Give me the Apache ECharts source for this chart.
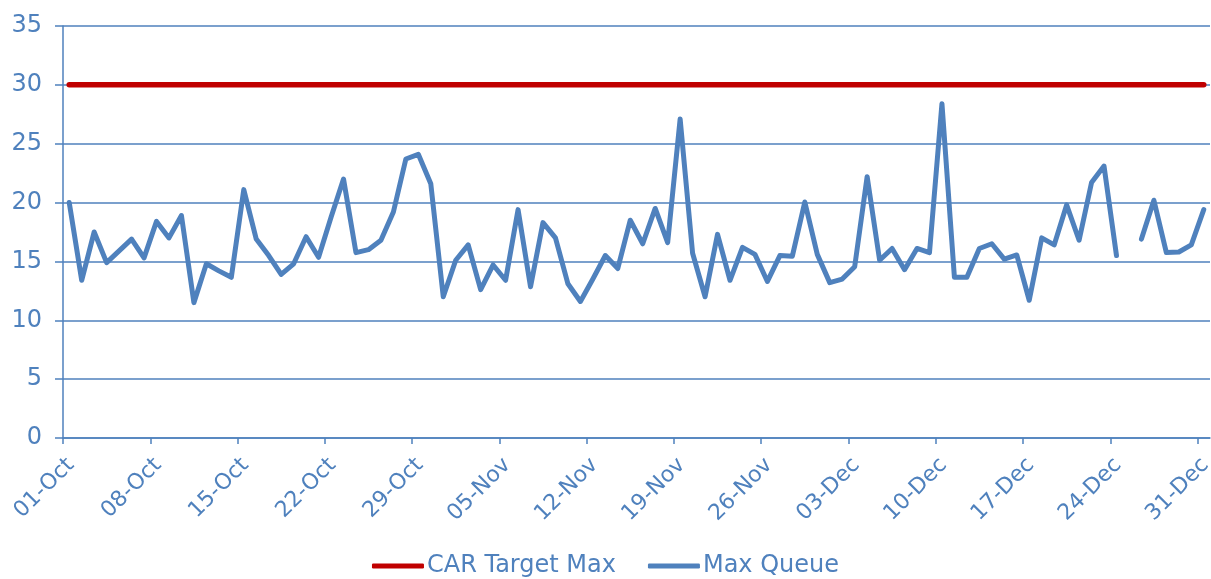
<!DOCTYPE html>
<html>
<head>
<meta charset="utf-8">
<script src="https://cdn.jsdelivr.net/npm/echarts@6/dist/echarts.min.js"></script>
<style>html,body{margin:0;padding:0;background:#fff}#c{width:1211px;height:579px}</style>
</head>
<body>
<div id="c"></div>
<script>
const dates = [
"01-Oct","02-Oct","03-Oct","04-Oct","05-Oct","06-Oct","07-Oct","08-Oct","09-Oct","10-Oct",
"11-Oct","12-Oct","13-Oct","14-Oct","15-Oct","16-Oct","17-Oct","18-Oct","19-Oct","20-Oct",
"21-Oct","22-Oct","23-Oct","24-Oct","25-Oct","26-Oct","27-Oct","28-Oct","29-Oct","30-Oct",
"31-Oct","01-Nov","02-Nov","03-Nov","04-Nov","05-Nov","06-Nov","07-Nov","08-Nov","09-Nov",
"10-Nov","11-Nov","12-Nov","13-Nov","14-Nov","15-Nov","16-Nov","17-Nov","18-Nov","19-Nov",
"20-Nov","21-Nov","22-Nov","23-Nov","24-Nov","25-Nov","26-Nov","27-Nov","28-Nov","29-Nov",
"30-Nov","01-Dec","02-Dec","03-Dec","04-Dec","05-Dec","06-Dec","07-Dec","08-Dec","09-Dec",
"10-Dec","11-Dec","12-Dec","13-Dec","14-Dec","15-Dec","16-Dec","17-Dec","18-Dec","19-Dec",
"20-Dec","21-Dec","22-Dec","23-Dec","24-Dec","25-Dec","26-Dec","27-Dec","28-Dec","29-Dec",
"30-Dec","31-Dec"];

const maxQueue = [
20.0, 13.4, 17.5, 14.9, 15.9, 16.9, 15.3, 18.4, 17.0, 18.9,
11.5, 14.8, 14.2, 13.65, 21.1, 16.9, 15.5, 13.9, 14.8, 17.1,
15.35, 18.75, 22.0, 15.75, 16.0, 16.8, 19.2, 23.7, 24.1, 21.6,
12.0, 15.1, 16.4, 12.6, 14.7, 13.4, 19.4, 12.85, 18.3, 17.0,
13.1, 11.6, 13.5, 15.5, 14.4, 18.5, 16.5, 19.5, 16.6, 27.1,
15.7, 12.0, 17.3, 13.4, 16.2, 15.6, 13.3, 15.5, 15.45, 20.05,
15.6, 13.2, 13.5, 14.55, 22.2, 15.1, 16.1, 14.3, 16.1, 15.75,
28.4, 13.65, 13.65, 16.1, 16.5, 15.2, 15.55, 11.7, 17.0, 16.4,
19.8, 16.8, 21.7, 23.1, 15.5, null, 16.9, 20.2, 15.75, 15.8,
16.4, 19.4];

const carTargetMax = dates.map(() => 30);

const yTicks = [0, 5, 10, 15, 20, 25, 30, 35];
const seriesNames = ["CAR Target Max", "Max Queue"];

const BLUE = "#4F81BD";
const RED = "#C00000";
const FONT = "DejaVu Sans";

// each day occupies one unit band on the x axis; points sit at band centres
const toPoints = arr => arr.map((v, i) => [i + 0.5, v]);

const chart = echarts.init(document.getElementById("c"), null, {renderer: "canvas"});
chart.setOption({
  animation: false,
  backgroundColor: "#fff",
  textStyle: {fontFamily: FONT},
  grid: {left: 63, right: 1, top: 26, bottom: 141, containLabel: false, outerBoundsMode: "none"},
  legend: {
    top: 549,
    left: "center",
    itemWidth: 52,
    itemHeight: 5,
    itemGap: 32,
    icon: "roundRect",
    textStyle: {fontSize: 24, color: BLUE, fontFamily: FONT, padding: [0, 0, 0, -2]},
    data: seriesNames
  },
  xAxis: {
    type: "value",
    min: 0,
    max: dates.length,
    interval: 7,
    axisLine: {show: true, lineStyle: {color: BLUE, width: 1.5}},
    axisTick: {show: true, length: 6, lineStyle: {color: BLUE, width: 1.5}},
    splitLine: {show: false},
    axisLabel: {
      rotate: 45,
      margin: 16,
      verticalAlign: "top",
      fontSize: 22,
      color: BLUE,
      fontFamily: FONT,
      showMaxLabel: false,
      hideOverlap: false,
      formatter: v => dates[v] || ""
    }
  },
  yAxis: {
    type: "value",
    min: yTicks[0],
    max: yTicks[yTicks.length - 1],
    interval: 5,
    axisLine: {show: true, lineStyle: {color: BLUE, width: 1.5}},
    axisTick: {show: true, length: 8, lineStyle: {color: BLUE, width: 1.5}},
    splitLine: {show: true, lineStyle: {color: BLUE, width: 1.5}},
    axisLabel: {margin: 21, fontSize: 24, color: BLUE, fontFamily: FONT}
  },
  series: [
    {
      name: seriesNames[0],
      type: "line",
      data: toPoints(carTargetMax),
      symbol: "none",
      color: RED,
      lineStyle: {color: RED, width: 5.5, cap: "round", join: "round"}
    },
    {
      name: seriesNames[1],
      type: "line",
      data: toPoints(maxQueue),
      symbol: "none",
      connectNulls: false,
      color: BLUE,
      lineStyle: {color: BLUE, width: 5, cap: "round", join: "round"}
    }
  ]
});
</script>
</body>
</html>
